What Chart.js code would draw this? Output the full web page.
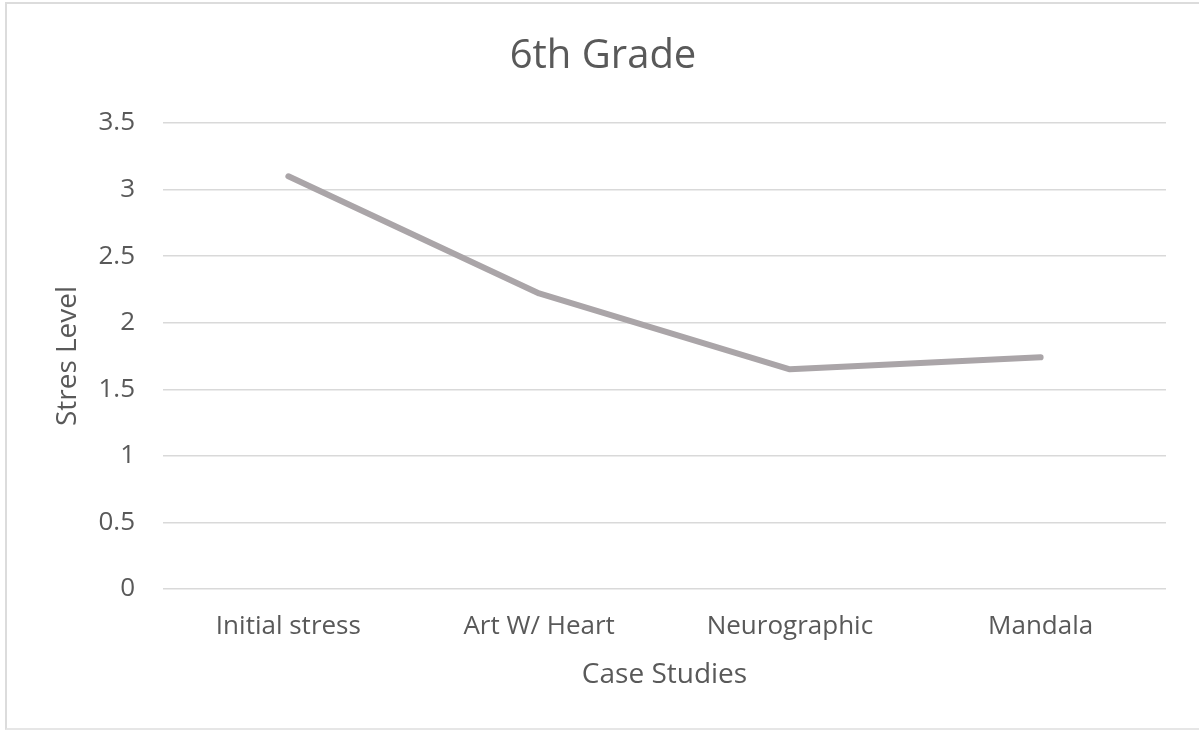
<!DOCTYPE html>
<html>
<head>
<meta charset="utf-8">
<title>6th Grade</title>
<script src="https://cdn.jsdelivr.net/npm/chart.js@4/dist/chart.umd.min.js"></script>
<style>
  html, body { margin: 0; padding: 0; background: #ffffff; }
  #frame {
    position: absolute; left: 5px; top: 2px; width: 1194px; height: 728px;
    border-left: 2px solid #dcdcdc; border-top: 2px solid #dcdcdc; border-bottom: 2px solid #e6e6e6;
    box-sizing: border-box;
  }
  #wrap { position: absolute; left: 0; top: 0; width: 1199px; height: 733px; }
</style>
</head>
<body>
<div id="frame"></div>
<div id="wrap"><canvas id="chart"></canvas></div>
<script>
// Stress level per case study
const categories = ['Initial stress', 'Art W/ Heart', 'Neurographic', 'Mandala'];
const stressLevels = [3.1, 2.22, 1.65, 1.74];
const yTicks = [0, 0.5, 1, 1.5, 2, 2.5, 3, 3.5];

const textColor = '#595959';
const fontFamily = '"Open Sans", "Noto Sans", sans-serif';

new Chart(document.getElementById('chart'), {
  type: 'line',
  data: {
    labels: categories,
    datasets: [{
      label: 'Stres Level',
      data: stressLevels,
      borderColor: '#aaa5a8',
      backgroundColor: '#aaa5a8',
      borderWidth: 6,
      borderCapStyle: 'round',
      borderJoinStyle: 'round',
      pointRadius: 0,
      tension: 0,
      fill: false
    }]
  },
  options: {
    responsive: true,
    maintainAspectRatio: false,
    animation: false,
    layout: { padding: { left: 7, right: 0, top: 0, bottom: 0 } },
    plugins: {
      legend: { display: false },
      tooltip: { enabled: false },
      title: {
        display: true,
        text: '6th Grade',
        color: textColor,
        font: { family: fontFamily, size: 40, weight: 'normal' },
        padding: { top: 33, bottom: 42 }
      }
    },
    scales: {
      x: {
        offset: true,
        grid: { display: false, drawTicks: false },
        border: { display: false },
        ticks: {
          color: textColor,
          font: { family: fontFamily, size: 26 },
          padding: 22,
          maxRotation: 0
        },
        title: {
          display: true,
          text: 'Case Studies',
          color: textColor,
          font: { family: fontFamily, size: 28 },
          padding: { top: 0, bottom: 41 }
        },
        afterFit: (scale) => { scale.height = 144; }
      },
      y: {
        min: 0,
        max: 3.5,
        afterBuildTicks: (scale) => { scale.ticks = yTicks.map(v => ({ value: v })); },
        grid: { color: '#d9d9d9', lineWidth: 1.5, drawTicks: false },
        border: { display: false },
        ticks: {
          color: textColor,
          font: { family: fontFamily, size: 26 },
          padding: 28,
          callback: (v) => String(v)
        },
        title: {
          display: true,
          text: 'Stres Level',
          color: textColor,
          font: { family: fontFamily, size: 28 },
          padding: { top: 44, bottom: 0 }
        },
        afterFit: (scale) => { scale.width = 156; }
      },
      // empty right-hand margin so the plot ends short of the frame edge
      yRight: {
        position: 'right',
        min: 0,
        max: 3.5,
        grid: { display: false, drawTicks: false },
        border: { display: false },
        ticks: { display: false },
        afterFit: (scale) => { scale.width = 33; }
      }
    }
  }
});
</script>
</body>
</html>
